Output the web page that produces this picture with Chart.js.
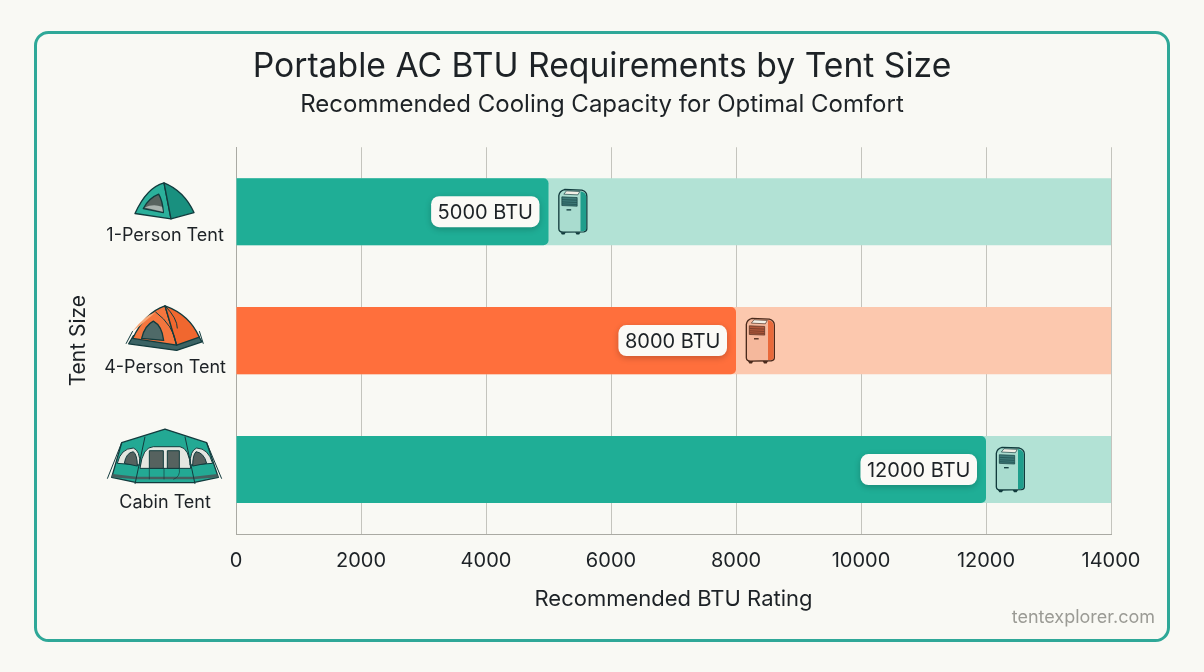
<!DOCTYPE html>
<html>
<head>
<meta charset="utf-8">
<title>Portable AC BTU Requirements by Tent Size</title>
<script src="https://cdn.jsdelivr.net/npm/chart.js@4/dist/chart.umd.min.js"></script>
<style>
  body { margin: 0; background: #f9f9f4; }
  canvas { display: block; }
</style>
</head>
<body>
<canvas id="chart" width="1204" height="672"></canvas>
<script>
"use strict";

const tentSizes = ["1-Person Tent", "4-Person Tent", "Cabin Tent"];
const btuValues = [5000, 8000, 12000];
const trackValues = [14000, 14000, 14000];
const tickStep = 2000;
const axisMax = 14000;

const barColors = ["#1fae96", "#ff6f3c", "#1fae96"];
const trackColors = ["#b2e2d5", "#fcc8ae", "#b2e2d5"];
const labelOffsets = [48, 54, 66];

const fontName = "Inter, 'Noto Sans', sans-serif";
const ink = "#1d2226";
const outline = "#123b3d";

// icon shapes are written in a 3x grid, so they get scaled down when drawn
const shape = (ctx, d, fill, line, lineColor = outline) => {
  const p = new Path2D(d);
  if (fill) {
    ctx.fillStyle = fill;
    ctx.fill(p);
  }
  if (line) {
    ctx.strokeStyle = lineColor;
    ctx.lineWidth = line;
    ctx.stroke(p);
  }
};

const drawSmallTent = ctx => {
  shape(ctx, "M135 130 Q170 52 222 38 L243 146 Z", "#2bb09b", 4);
  shape(ctx, "M222 38 Q282 62 312 127 L243 146 Z", "#19907f", 4);
  shape(ctx, "M160 115 Q176 84 206 72 Q218 92 220 127 Z", "#59635f", 4);
  shape(ctx, "M164 112 Q190 100 216 110 L219 125 Z", "#aab3af");
};

const drawMediumTent = ctx => {
  shape(ctx, "M116 146 L260 166 L336 140 L325 122 L130 122 Z", "#3b6364", 4);
  shape(ctx, "M128 130 Q165 52 225 32 L260 150 Z", "#f4763e", 4);
  shape(ctx, "M225 32 Q298 58 328 126 L260 150 Z", "#f0672f", 4);
  shape(ctx, "M128 108 Q165 60 196 52 L150 92 Z", "#f8a878");
  shape(ctx, "M155 130 Q163 92 190 78 Q216 92 221 136 Z", "#4f6a68", 4);
  shape(ctx, "M196 50 Q250 90 260 150 M225 32 Q262 70 262 100", null, 3);
  shape(ctx, "M128 108 L108 146 M328 108 L340 146", null, 3);
};

const drawCabinTent = ctx => {
  shape(ctx, "M95 68 L225 27 L350 68 L385 172 L310 188 L140 188 L65 172 Z", "#23a994", 4);
  shape(ctx, "M65 172 L140 178 L310 178 L385 172 L382 162 L310 170 L140 170 L68 162 Z", "#45605f");
  shape(ctx, "M150 145 Q158 80 190 80 L270 80 Q298 84 302 145 Z", "#e4e6e0", 3);
  shape(ctx, "M178 145 L178 92 L220 92 L220 145 Z M232 145 L232 92 L268 92 L268 145 Z", "#56625f", 3);
  shape(ctx, "M82 130 Q92 85 130 84 Q150 90 150 135 Z", "#e4e6e0", 3);
  shape(ctx, "M103 130 Q108 98 130 95 Q142 105 142 138 Z", "#56625f", 3);
  shape(ctx, "M368 130 Q355 85 320 84 Q300 90 300 135 Z", "#e4e6e0", 3);
  shape(ctx, "M350 130 Q342 98 318 95 Q308 105 308 138 Z", "#56625f", 3);
  shape(ctx, "M178 145 L178 178 M222 145 L222 178 M268 145 Q272 170 250 178", null, 2);
  shape(ctx, "M95 68 L52 176 M350 68 L395 176 M165 50 L135 192 M285 50 L315 192", null, 3);
};

const tentIcons = [
  { draw: drawSmallTent, top: 41.5 },
  { draw: drawMediumTent, top: 45.5 },
  { draw: drawCabinTent, top: 49.5 }
];

const acTeal = { front: "#a9dccf", side: "#1f9e8c", grill: "#3d7a78", line: "#123b3d" };
const acOrange = { front: "#f5b89c", side: "#e8693a", grill: "#b0573a", line: "#4a2a1c" };

const drawAcUnit = (ctx, c) => {
  shape(ctx, "M432 58 L484 60 Q499 64 499 78 L499 176 Q499 184 490 185 L428 186 Q415 186 415 176 L415 76 Q417 62 432 58 Z", c.front, 4, c.line);
  shape(ctx, "M480 63 Q496 66 497 79 L497 176 Q497 182 488 183 L480 183 Z", c.side);
  shape(ctx, "M438 62 L478 64 L472 74 L430 72 Z", "#f2efe6", 2, c.line);
  shape(ctx, "M424 80 L470 82 L470 108 L424 106 Z", c.grill, 2, c.line);
  shape(ctx, "M425 88 L469 90 M425 95 L469 97 M425 101 L469 103", null, 1.5, c.line);
  shape(ctx, "M438 117 L452 117 L452 121 L438 121 Z", c.line);
  shape(ctx, "M420 186 L436 186 L432 193 L424 193 Z M464 186 L480 186 L476 193 L468 193 Z", c.line);
};

const framePlugin = {
  id: "frame",
  beforeDraw(chart) {
    const { ctx, width, height } = chart;
    ctx.save();
    ctx.fillStyle = "#f9f9f4";
    ctx.fillRect(0, 0, width, height);
    ctx.beginPath();
    ctx.roundRect(35.5, 32.5, width - 71, height - 64, 13);
    ctx.strokeStyle = "#2fa898";
    ctx.lineWidth = 3;
    ctx.stroke();
    ctx.restore();
  },
  afterDraw(chart) {
    const { ctx, width } = chart;
    ctx.save();
    ctx.font = "18px " + fontName;
    ctx.fillStyle = "#9b9b95";
    ctx.textAlign = "right";
    ctx.textBaseline = "middle";
    ctx.fillText("tentexplorer.com", width - 49, 618);
    ctx.restore();
  }
};

const decorPlugin = {
  id: "decor",
  afterDatasetsDraw(chart) {
    const { ctx, scales } = chart;
    const bars = chart.getDatasetMeta(1).data;

    tentSizes.forEach((name, i) => {
      ctx.save();
      ctx.translate(scales.x.left - 146, scales.y.getPixelForValue(i) - tentIcons[i].top);
      ctx.scale(1 / 3, 1 / 3);
      ctx.lineJoin = "round";
      tentIcons[i].draw(ctx);
      ctx.restore();
    });

    bars.forEach((bar, i) => {
      // little AC unit just past the end of the bar
      ctx.save();
      ctx.translate(bar.x - 128, bar.y - 41.5);
      ctx.scale(1 / 3, 1 / 3);
      ctx.lineJoin = "round";
      drawAcUnit(ctx, i === 1 ? acOrange : acTeal);
      ctx.restore();

      // value pill inside the bar
      const text = btuValues[i] + " BTU";
      ctx.save();
      ctx.font = "20px " + fontName;
      const w = ctx.measureText(text).width + 13;
      const h = 31;
      const x = bar.x - 9 - w;
      const y = bar.y - h / 2;
      ctx.shadowColor = "rgba(0,0,0,0.22)";
      ctx.shadowBlur = 6;
      ctx.shadowOffsetY = 2;
      ctx.fillStyle = "#fbfaf6";
      ctx.beginPath();
      ctx.roundRect(x, y, w, h, 8);
      ctx.fill();
      ctx.shadowColor = "transparent";
      ctx.fillStyle = ink;
      ctx.textAlign = "center";
      ctx.textBaseline = "middle";
      ctx.fillText(text, x + w / 2, bar.y + 1);
      ctx.restore();
    });
  }
};

new Chart(document.getElementById("chart"), {
  type: "bar",
  data: {
    labels: tentSizes,
    datasets: [
      {
        label: "Scale range",
        data: trackValues,
        backgroundColor: trackColors,
        order: 2
      },
      {
        label: "Recommended BTU",
        data: btuValues,
        backgroundColor: barColors,
        borderRadius: { topRight: 5, bottomRight: 5 },
        borderSkipped: false,
        order: 1
      }
    ]
  },
  options: {
    indexAxis: "y",
    responsive: false,
    animation: false,
    grouped: false,
    categoryPercentage: 1,
    barPercentage: 0.52,
    // equal sides keep the titles centred on the page, spacer axis makes up the right side
    layout: { padding: { left: 66, right: 66, bottom: 59 } },
    plugins: {
      legend: { display: false },
      tooltip: { enabled: false },
      title: {
        display: true,
        text: "Portable AC BTU Requirements by Tent Size",
        color: ink,
        font: { family: fontName, size: 33.7, weight: "normal" },
        padding: { top: 47, bottom: 3 }
      },
      subtitle: {
        display: true,
        text: "Recommended Cooling Capacity for Optimal Comfort",
        color: ink,
        font: { family: fontName, size: 24, weight: "normal" },
        padding: { top: 0, bottom: 28 }
      }
    },
    scales: {
      x: {
        min: 0,
        max: axisMax,
        afterFit(scale) {
          scale.height = 79;
          scale.paddingRight = 0;
        },
        grid: { color: "#c4c4bd", lineWidth: 1, drawTicks: false },
        border: { color: "#aaaaa3" },
        ticks: {
          stepSize: tickStep,
          color: ink,
          padding: 15,
          maxRotation: 0,
          font: { family: fontName, size: 20 },
          callback(value) {
            return String(value);
          }
        },
        title: {
          display: true,
          text: "Recommended BTU Rating",
          color: ink,
          font: { family: fontName, size: 22 },
          padding: 0
        }
      },
      y: {
        afterFit(scale) {
          scale.width = 170;
        },
        grid: { display: false, drawTicks: false },
        border: { color: "#aaaaa3" },
        ticks: {
          crossAlign: "center",
          autoSkip: false,
          padding: 10,
          color: ink,
          // blank first line pushes the name down below the tent icon
          callback(value) {
            return ["\u00a0", tentSizes[value]];
          },
          font(ctx) {
            return {
              family: fontName,
              size: 18,
              lineHeight: labelOffsets[ctx.index] + "px"
            };
          }
        },
        title: {
          display: true,
          text: "Tent Size",
          color: ink,
          font: { family: fontName, size: 21 },
          padding: 0
        }
      },
      spacer: {
        axis: "y",
        position: "right",
        afterFit(scale) {
          scale.width = 27;
        },
        grid: { display: false, drawTicks: false },
        border: { display: false },
        ticks: { display: false }
      }
    }
  },
  plugins: [framePlugin, decorPlugin]
});
</script>
</body>
</html>
